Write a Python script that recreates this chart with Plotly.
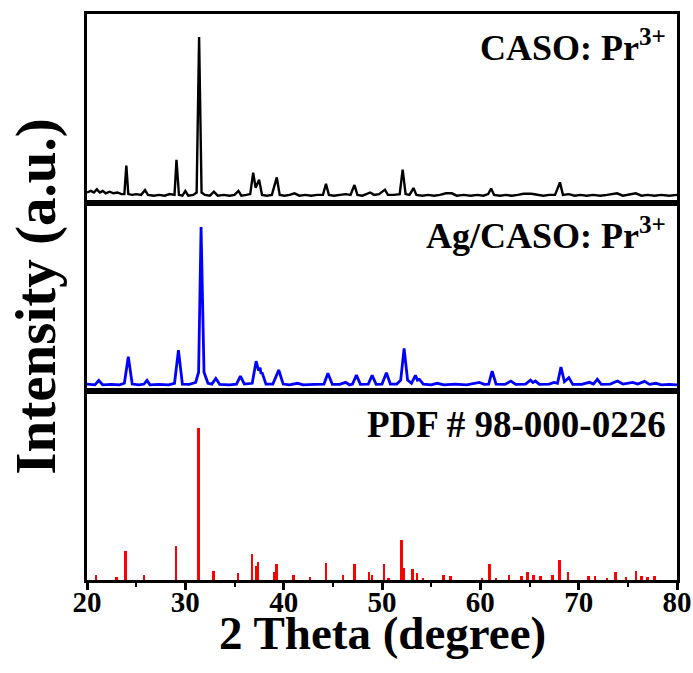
import plotly.graph_objects as go
from plotly.subplots import make_subplots

# ---------------- data ----------------
# CASO: Pr3+ pattern (2theta, relative intensity)
caso_2theta = [20.0, 20.4, 20.7, 21.0, 21.3, 21.6, 21.9, 22.3, 22.7, 23.1, 23.5, 23.8, 24.0, 24.2,
               24.6, 25.0, 25.5, 25.9, 26.2, 26.8, 27.3, 27.9, 28.4, 28.9, 29.1, 29.35, 29.7, 30.0,
               30.3, 30.8, 31.15, 31.4, 31.65, 32.0, 32.5, 32.9, 33.3, 33.9, 34.5, 35.0, 35.4, 35.7,
               36.2, 36.6, 36.9, 37.15, 37.5, 37.8, 38.3, 38.8, 39.3, 39.6, 40.1, 40.6, 41.1, 41.6,
               42.2, 42.8, 43.4, 44.0, 44.3, 44.6, 45.1, 45.7, 46.3, 46.8, 47.2, 47.5, 48.0, 48.4,
               48.8, 49.2, 49.7, 50.3, 50.6, 51.2, 51.8, 52.1, 52.4, 52.8, 53.2, 53.5, 54.1, 54.7,
               55.3, 55.9, 56.5, 57.1, 57.6, 58.3, 59.0, 59.7, 60.3, 60.8, 61.1, 61.4, 62.0, 62.6,
               63.2, 63.8, 64.4, 65.2, 65.8, 66.4, 67.0, 67.6, 68.1, 68.4, 69.0, 69.6, 70.2, 70.8,
               71.5, 72.2, 72.9, 73.9, 74.5, 75.1, 75.8, 76.4, 77.0, 77.7, 78.4, 79.2, 80.0]
caso_int = [2, 3, 2, 4, 2, 3, 1.5, 2.5, 1.5, 2, 1, 1, 19, 1,
            0.5, 1, 0.5, 3.5, 0.5, 0, 0.5, 0, 1, 0.5, 22.6, 0.5, 0, 3,
            0, 0.5, 2, 100, 2, 0.5, 0, 2.5, 0, 0.5, 0, 0.5, 3, 0,
            0.5, 1, 14.5, 5, 10, 0.5, 0, 0.5, 11.5, 0.5, 0, 0.5, 1.5, 0,
            0.5, 0, 0.5, 0.5, 7.5, 0.5, 0, 0.5, 1, 0.5, 6.7, 0.5, 0, 1,
            2, 0.5, 1, 3.8, 0.5, 0.5, 1, 16.4, 1, 0.5, 4.8, 0.5, 0, 0.5,
            0, 0.5, 1.5, 1.5, 0, 0.5, 0, 0.5, 0, 1, 4.5, 0.5, 0, 0.5,
            0, 0.5, 1.2, 1.2, 0.5, 0, 0.5, 0.5, 8.4, 0.5, 1, 0, 0.5, 0,
            0.5, 0, 0.5, 1.5, 0, 0.5, 1.5, 0, 0.5, 0, 0.5, 0, 0.5]

# Ag/CASO: Pr3+ pattern
ag_2theta = [20.0, 20.8, 21.2, 21.6, 22.5, 23.3, 23.8, 24.2, 24.6, 25.3, 25.8, 26.1, 26.4, 27.3,
             28.3, 28.9, 29.3, 29.7, 30.4, 31.05, 31.35, 31.6, 31.9, 32.3, 32.7, 33.1, 33.5, 34.5,
             35.2, 35.6, 36.0, 36.8, 37.2, 37.45, 37.6, 37.7, 37.8, 38.2, 38.9, 39.5, 39.95, 40.6,
             41.4, 42.0, 43.1, 44.1, 44.5, 44.95, 45.7, 46.3, 46.7, 47.0, 47.4, 47.8, 48.6, 49.0,
             49.4, 50.0, 50.45, 50.85, 51.5, 51.9, 52.25, 52.6, 53.0, 53.4, 53.6, 53.8, 54.2, 55.0,
             55.6, 56.3, 57.4, 58.6, 59.9, 60.4, 60.85, 61.2, 61.6, 62.5, 63.1, 63.6, 64.6, 65.1,
             65.35, 65.6, 66.0, 67.0, 67.5, 67.85, 68.2, 68.55, 69.0, 69.4, 70.3, 71.1, 71.5, 71.9,
             72.3, 73.2, 73.95, 74.5, 75.5, 76.0, 76.7, 77.2, 77.85, 78.4, 79.2, 80.0]
ag_int = [0.5, 0, 2.8, 0, 0.3, 0, 1, 17.8, 0.5, 0, 0.5, 2.8, 0, 0.3,
          0, 1, 22, 0.5, 0.3, 1.5, 8, 100, 8, 1, 0.5, 4.1, 0.3, 0,
          0.5, 5.6, 0.5, 1, 15, 9, 10.9, 7, 7.9, 0.5, 0.5, 9.4, 0.5, 0,
          1, 0, 0.3, 0.5, 7.3, 0.3, 0.3, 1.6, 0, 0.5, 6.2, 0.3, 0.5, 6,
          0.3, 0.5, 7.7, 0.5, 0.5, 3, 23.1, 3, 1, 6, 3, 3.5, 0.5, 0,
          1, 0, 0.5, 0, 1.6, 0.3, 0.5, 8.7, 0.5, 0.3, 2.4, 0.3, 0.5, 3,
          1.5, 2.4, 0.3, 0.5, 1.6, 1, 11.3, 2, 4.6, 0.3, 0.3, 1.6, 0.5, 3.5,
          0.3, 0.5, 2.4, 0.5, 1.6, 0.5, 2.2, 0.3, 1, 0, 0.3, 0]

# PDF # 98-000-0226 reference lines
pdf_2theta = [20.9, 23.0, 23.9, 25.8, 29.05, 31.33, 32.85, 35.33, 36.8, 37.2, 37.4, 39.05, 39.26,
              41.0, 42.65, 44.3, 46.05, 47.2, 48.7, 49.0, 50.2, 50.65, 51.98, 52.2, 53.1, 53.53,
              54.2, 56.25, 56.96, 60.2, 60.93, 61.6, 62.9, 64.2, 64.8, 65.4, 66.1, 67.35, 68.05,
              68.9, 71.0, 71.65, 72.87, 73.75, 74.8, 75.8, 76.4, 77.0, 77.7]
pdf_int = [3.3, 2, 18.7, 3.3, 22.5, 100, 5.5, 4.2, 17, 9.3, 11.5, 4.8, 10.4,
           3.1, 1.5, 10.8, 3.3, 10.4, 4.8, 3.3, 10.4, 1.3, 26.5, 7.7, 7.1, 4.2,
           1, 3.1, 2.6, 1.3, 10.4, 1.3, 3.3, 2.6, 4.8, 3.1, 2.6, 3.3, 13,
           4.8, 2.6, 2.2, 1.3, 4.8, 2, 5.5, 2.6, 2, 2.6]

panel_labels = ["CASO: Pr<sup>3+</sup>", "Ag/CASO: Pr<sup>3+</sup>", "PDF # 98-000-0226"]
x_ticks = [20, 30, 40, 50, 60, 70, 80]
x_title = "2 Theta (degree)"
y_title = "Intensity (a.u.)"

FONT = "Liberation Serif, Times New Roman, serif"

fig = make_subplots(rows=3, cols=1, shared_xaxes=True, vertical_spacing=0)

fig.add_trace(go.Scatter(x=caso_2theta, y=caso_int, mode="lines",
                         line=dict(color="black", width=2.4), showlegend=False), row=1, col=1)
fig.add_trace(go.Scatter(x=ag_2theta, y=ag_int, mode="lines",
                         line=dict(color="#0000ff", width=2.8), showlegend=False), row=2, col=1)
fig.add_trace(go.Bar(x=pdf_2theta, y=pdf_int, width=0.24,
                     marker=dict(color="#ff0000", line=dict(width=0)), showlegend=False), row=3, col=1)

axis_common = dict(showline=True, linecolor="black", linewidth=3, mirror=True,
                   showgrid=False, zeroline=False, automargin=False)

for r in (1, 2, 3):
    fig.update_xaxes(range=[20, 80], row=r, col=1, **axis_common)
    fig.update_yaxes(showticklabels=False, ticks="", row=r, col=1, **axis_common)

fig.update_xaxes(showticklabels=False, ticks="", row=1, col=1)
fig.update_xaxes(showticklabels=False, ticks="", row=2, col=1)
fig.update_xaxes(row=3, col=1, tickvals=x_ticks, ticks="outside", ticklen=7, tickwidth=2.5,
                 tickcolor="black", ticklabelstandoff=-13,
                 minor=dict(ticks="outside", ticklen=4, tickwidth=2, dtick=5, tick0=20, tickcolor="black"),
                 tickfont=dict(family=FONT, size=29, color="black", weight="bold"))

fig.update_yaxes(range=[-4.4, 114.5], row=1, col=1)
fig.update_yaxes(range=[-4.1, 115.5], row=2, col=1)
fig.update_yaxes(range=[0, 124.5], row=3, col=1)

# panel labels
label_y = [0.945, 0.612, 0.275]
label_size = [36, 36, 37]
for txt, yy, sz in zip(panel_labels, label_y, label_size):
    fig.add_annotation(text="<b>" + txt + "</b>", xref="paper", yref="paper", x=0.985, y=yy,
                       xanchor="right", yanchor="middle", showarrow=False,
                       font=dict(family=FONT, size=sz, color="black"))

fig.add_annotation(text="<b>" + x_title + "</b>", xref="paper", yref="paper", x=0.5, y=-0.093,
                   xanchor="center", yanchor="middle", showarrow=False, borderpad=0,
                   font=dict(family=FONT, size=47, color="black"))

fig.add_annotation(text="<b>" + y_title + "</b>", xref="paper", yref="paper", x=-0.087, y=0.5,
                   xanchor="center", yanchor="middle", textangle=-90, showarrow=False,
                   font=dict(family=FONT, size=57, color="black"))

fig.update_layout(width=693, height=673, margin=dict(l=87, r=16, t=14, b=93),
                  plot_bgcolor="white", paper_bgcolor="white", bargap=0)

fig.write_html("out.html", post_script="document.body.style.margin='0';",
               config={"displayModeBar": False})
